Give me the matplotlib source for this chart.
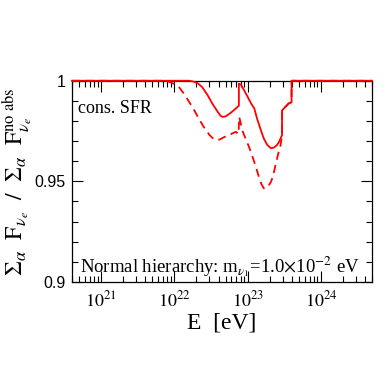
import numpy as np
import matplotlib
matplotlib.use("Agg")
import matplotlib.pyplot as plt
from matplotlib.ticker import LogLocator, MultipleLocator, FixedLocator, NullFormatter

plt.rcParams["mathtext.fontset"] = "stix"

# log10(E/eV) and flux ratio
logE_solid = [20.6, 22.2, 22.27, 22.32, 22.38, 22.45, 22.52, 22.59, 22.63, 22.66, 22.70,
              22.76, 22.82, 22.88,
              22.88, 22.91, 22.95, 23.00, 23.05, 23.09, 23.13, 23.18, 23.22, 23.27, 23.32,
              23.36, 23.40, 23.43, 23.47,
              23.47, 23.52, 23.56, 23.60, 23.60, 24.7]
ratio_solid = [1.0, 1.0, 0.9995, 0.9987, 0.9968, 0.993, 0.9885, 0.9846, 0.9826, 0.982, 0.9823,
               0.9838, 0.9856, 0.9876,
               0.9985, 0.998, 0.9954, 0.992, 0.9885, 0.9863, 0.981, 0.9755, 0.9713, 0.968, 0.9664,
               0.9668, 0.968, 0.9697, 0.973,
               0.9852, 0.9872, 0.9887, 0.9893, 1.0, 1.0]

logE_dash = [20.6, 21.85, 21.92, 21.98, 22.06, 22.14, 22.20, 22.26, 22.32, 22.40, 22.48, 22.53,
             22.57, 22.62, 22.68, 22.75, 22.80, 22.84, 22.875,
             22.885, 22.93, 22.98, 23.02, 23.09, 23.13, 23.16, 23.19, 23.22, 23.25, 23.28,
             23.32, 23.35, 23.38, 23.42, 23.45, 23.47,
             23.47, 23.52, 23.56, 23.60, 23.60, 24.7]
ratio_dash = [1.0, 1.0, 0.9996, 0.9987, 0.997, 0.993, 0.9895, 0.986, 0.982, 0.977, 0.973, 0.9712,
              0.9705, 0.9708, 0.972, 0.973, 0.974, 0.9746, 0.9735,
              0.982, 0.975, 0.9705, 0.967, 0.9597, 0.955, 0.9515, 0.9485, 0.9465, 0.9465, 0.9475,
              0.9498, 0.953, 0.958, 0.964, 0.968, 0.973,
              0.9852, 0.9872, 0.9887, 0.9893, 1.0, 1.0]

fig = plt.figure(figsize=(3.92, 3.92), dpi=100)
ax = fig.add_axes([0.184, 0.281, 0.765, 0.513])

E_s = 10.0 ** np.array(logE_solid)
E_d = 10.0 ** np.array(logE_dash)
ax.plot(E_s, ratio_solid, color="red", lw=1.3, clip_on=False, zorder=5)
ax.plot(E_d, ratio_dash, color="red", lw=1.3, ls=(0, (4.5, 3)), clip_on=False, zorder=5)

ax.set_xscale("log")
ax.set_xlim(4e20, 5e24)
ax.set_ylim(0.9, 1.0)

ax.xaxis.set_major_locator(FixedLocator([1e21, 1e22, 1e23, 1e24]))
ax.xaxis.set_minor_locator(LogLocator(base=10, subs=np.arange(2, 10)))
ax.xaxis.set_minor_formatter(NullFormatter())
ax.set_xticklabels([r"$10^{21}$", r"$10^{22}$", r"$10^{23}$", r"$10^{24}$"])
ax.yaxis.set_major_locator(FixedLocator([0.9, 0.95, 1.0]))
ax.yaxis.set_minor_locator(MultipleLocator(0.01))
ax.set_yticklabels(["0.9", "0.95", "1"])

ax.tick_params(which="both", direction="in", top=True, right=True)
ax.tick_params(which="major", length=8, width=0.8)
ax.tick_params(which="minor", length=4, width=0.8)
ax.tick_params(axis="x", labelsize=13, pad=6)
ax.tick_params(axis="y", labelsize=11.5, pad=5)
for lab in ax.get_yticklabels() + ax.get_xticklabels():
    lab.set_fontfamily("Liberation Sans")
for sp in ax.spines.values():
    sp.set_linewidth(0.9)

ax.set_xlabel("E  [eV]", fontfamily="Liberation Serif", fontsize=17, labelpad=2)
ax.set_ylabel(r"$\Sigma_{\alpha}\ \ \mathrm{F}_{\nu_e}\ \ /\ \ \Sigma_{\alpha}\ \ \mathrm{F}^{\mathrm{no\ abs}}_{\nu_e}$",
              fontsize=17, labelpad=0)

ax.text(0.02, 0.86, "cons. SFR", transform=ax.transAxes, fontfamily="Liberation Serif",
        fontsize=13, va="center", ha="left")
ax.text(0.025, 0.075, r"Normal hierarchy: m$_{\nu_1}$=1.0$\times$10$^{-2}$ eV",
        transform=ax.transAxes, fontfamily="Liberation Serif", fontsize=13.5,
        va="center", ha="left")

fig.savefig("out.png", dpi=100)
